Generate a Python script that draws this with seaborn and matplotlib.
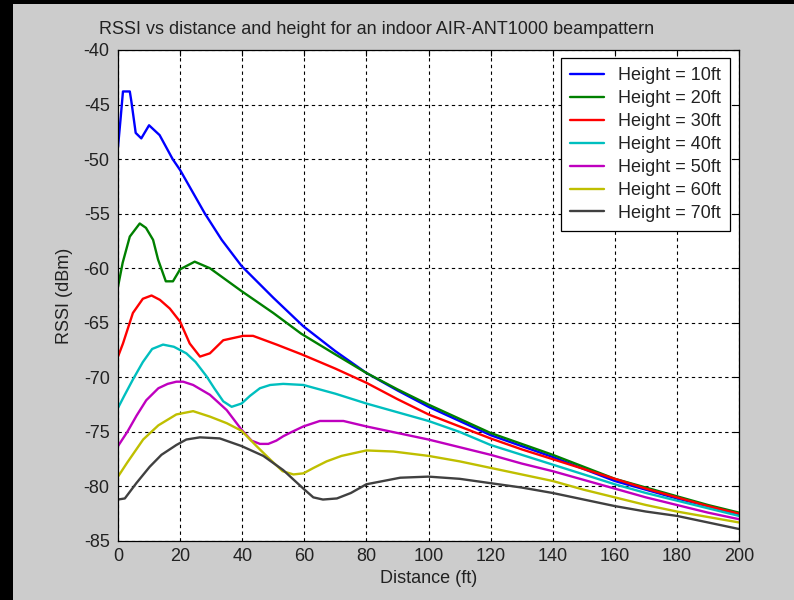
import pandas as pd
import seaborn as sns
import matplotlib.pyplot as plt
from matplotlib.patches import Rectangle

# values
dist_10 = [0, 0.8, 1.6, 3.8, 4.3, 5.7, 7.5, 10, 13.4, 17.6, 20, 28, 33.4, 39.8, 50, 59.6, 70, 80,
           90, 100, 110, 120, 130, 140, 150, 160, 170, 180, 190, 200]
rssi_10 = [-48.9, -46.4, -43.8, -43.8, -44.7, -47.6, -48.1, -46.9, -47.8, -50.0, -51.0, -55.0, -57.4,
           -59.8, -62.7, -65.3, -67.6, -69.6, -71.2, -72.7, -74.0, -75.3, -76.3, -77.3, -78.4, -79.5,
           -80.3, -81.1, -81.8, -82.6]

dist_20 = [0, 1.5, 3.8, 7, 9, 11.3, 12.9, 15.4, 17.7, 20, 24.7, 29.6, 39.8, 50, 59, 70, 80, 90,
           100, 110, 120, 130, 140, 150, 160, 170, 180, 190, 200]
rssi_20 = [-61.7, -59.5, -57.1, -55.9, -56.3, -57.4, -59.2, -61.2, -61.2, -60.1, -59.4, -60.0, -62.1,
           -64.1, -66.0, -67.9, -69.6, -71.1, -72.5, -73.8, -75.1, -76.1, -77.1, -78.2, -79.3, -80.1,
           -80.9, -81.7, -82.4]

dist_30 = [0, 1.6, 4.8, 8, 10.8, 13.5, 16.7, 20, 23.1, 26.4, 29.6, 33.9, 40.3, 43.5, 51.1, 59.2,
           70, 80, 90, 100, 110, 120, 130, 140, 150, 160, 170, 180, 190, 200]
rssi_30 = [-68.1, -66.9, -64.1, -62.8, -62.5, -62.9, -63.7, -64.9, -66.9, -68.1, -67.8, -66.6, -66.2,
           -66.2, -67.0, -67.9, -69.2, -70.5, -72.0, -73.4, -74.5, -75.6, -76.6, -77.5, -78.4, -79.3,
           -80.2, -81.0, -81.8, -82.5]

dist_40 = [0, 2, 4.8, 8, 11, 14.5, 18, 22, 25, 28.5, 31, 33.9, 36.6, 39.8, 42.5, 45.7, 49, 53.2,
           59.7, 70, 80, 90, 100, 110, 120, 130, 140, 150, 160, 170, 180, 190, 200]
rssi_40 = [-72.8, -71.7, -70.2, -68.6, -67.4, -67.0, -67.2, -67.8, -68.6, -69.9, -71.0, -72.2, -72.7,
           -72.4, -71.7, -71.0, -70.7, -70.6, -70.7, -71.5, -72.4, -73.2, -74.0, -75.0, -76.2, -77.1,
           -78.0, -78.9, -79.8, -80.6, -81.3, -82.0, -82.7]

dist_50 = [0, 3, 6, 9.1, 13, 16, 18.8, 21, 24.2, 29.6, 35, 39.8, 43, 45.7, 48.4, 51, 53.2, 56, 59.7,
           65, 72.6, 80, 90, 100, 110, 120, 130, 140, 150, 160, 170, 180, 190, 200]
rssi_50 = [-76.3, -75.0, -73.5, -72.1, -71.0, -70.6, -70.4, -70.4, -70.7, -71.6, -73.0, -74.8, -75.8,
           -76.1, -76.1, -75.8, -75.4, -75.0, -74.5, -74.0, -74.0, -74.5, -75.1, -75.7, -76.4, -77.1,
           -77.9, -78.6, -79.4, -80.2, -81.0, -81.7, -82.4, -83.0]

dist_60 = [0, 3, 8.1, 13, 18.8, 24.2, 29.6, 35, 39.8, 44.6, 48.9, 53, 56.5, 59.7, 63, 67.2, 72, 80,
           88.7, 100, 110, 120, 130, 140, 150, 160, 170, 180, 190, 200]
rssi_60 = [-79.1, -77.8, -75.7, -74.4, -73.4, -73.1, -73.6, -74.2, -74.9, -76.3, -77.5, -78.6, -78.9,
           -78.8, -78.3, -77.7, -77.2, -76.7, -76.8, -77.2, -77.7, -78.3, -78.9, -79.5, -80.3, -81.0,
           -81.7, -82.3, -82.8, -83.3]

dist_70 = [0, 2.2, 5.9, 10.2, 14, 18.8, 22, 26.4, 32.8, 39.8, 46.8, 53.2, 59.7, 62.9, 66, 70.5, 75,
           80, 90.9, 100, 110, 120, 130, 140, 150, 160, 170, 180, 190, 200]
rssi_70 = [-81.2, -81.1, -79.7, -78.2, -77.1, -76.2, -75.7, -75.5, -75.6, -76.3, -77.2, -78.5, -80.2,
           -81.0, -81.2, -81.1, -80.6, -79.8, -79.2, -79.1, -79.3, -79.7, -80.1, -80.6, -81.2, -81.8,
           -82.3, -82.7, -83.3, -83.9]

heights = ["Height = 10ft", "Height = 20ft", "Height = 30ft", "Height = 40ft",
           "Height = 50ft", "Height = 60ft", "Height = 70ft"]
colors = ["#0000ff", "#008000", "#ff0000", "#00bfbf", "#bf00bf", "#bfbf00", "#404040"]

x_ticks = list(range(0, 201, 20))
y_ticks = list(range(-85, -39, 5))


def main():
    series = [(dist_10, rssi_10), (dist_20, rssi_20), (dist_30, rssi_30), (dist_40, rssi_40),
              (dist_50, rssi_50), (dist_60, rssi_60), (dist_70, rssi_70)]
    frames = []
    for label, (d, r) in zip(heights, series):
        frames.append(pd.DataFrame({"distance": d, "rssi": r, "height": label}))
    df = pd.concat(frames, ignore_index=True)

    sns.set_style("white")
    plt.rcParams["font.family"] = ["Liberation Sans", "DejaVu Sans"]
    plt.rcParams["text.color"] = "#222222"
    plt.rcParams["axes.unicode_minus"] = False

    fig = plt.figure(figsize=(7.94, 6), dpi=100, facecolor="#cccccc")
    ax = fig.add_axes([118 / 794, 1 - 541 / 600, (739 - 118) / 794, (541 - 50) / 600])
    ax.set_facecolor("white")

    # black strips along the left and top of the window
    fig.patches.append(Rectangle((0, 0), 13 / 794, 1, transform=fig.transFigure,
                                 facecolor="black", edgecolor="none", zorder=-1))
    fig.patches.append(Rectangle((0, 1 - 4 / 600), 1, 4 / 600, transform=fig.transFigure,
                                 facecolor="black", edgecolor="none", zorder=-1))

    sns.lineplot(data=df, x="distance", y="rssi", hue="height", hue_order=heights,
                 palette=colors, estimator=None, sort=False, linewidth=1.7, ax=ax)

    ax.set_xlim(0, 200)
    ax.set_ylim(-85, -40)
    ax.set_xticks(x_ticks)
    ax.set_yticks(y_ticks)
    ax.grid(True, color="black", linestyle=(0, (3, 3)), linewidth=0.8)
    ax.set_axisbelow(True)
    for s in ax.spines.values():
        s.set_visible(True)
        s.set_color("black")
        s.set_linewidth(0.9)
    ax.tick_params(direction="in", length=4, width=0.8, top=True, right=True,
                   labelsize=13, labelcolor="#222222", color="black")
    ax.tick_params(axis="x", pad=5)
    ax.tick_params(axis="y", pad=6)

    ax.set_xlabel("Distance (ft)", fontsize=13, color="#222222")
    ax.xaxis.set_label_coords(0.5, -0.059)
    ax.set_ylabel("RSSI (dBm)", fontsize=13, color="#222222")
    ax.yaxis.set_label_coords(-0.072, 0.5)
    fig.text(99 / 794, 1 - 29 / 600, "RSSI vs distance and height for an indoor AIR-ANT1000 beampattern",
             fontsize=13, color="#222222", ha="left", va="center")

    old = ax.get_legend()
    handles = old.legend_handles
    labels = [t.get_text() for t in old.texts]
    old.remove()
    leg = ax.legend(handles, labels, loc="upper right", bbox_to_anchor=(730 / 794, 1 - 58 / 600),
                    bbox_transform=fig.transFigure, borderaxespad=0, fancybox=False,
                    framealpha=1, edgecolor="black", fontsize=13, handlelength=1.9,
                    handletextpad=0.75, labelspacing=0.33, borderpad=0.5)
    leg.get_frame().set_linewidth(0.9)
    for line in leg.get_lines():
        line.set_linewidth(1.7)

    fig.savefig("out.png", dpi=100, facecolor=fig.get_facecolor())


if __name__ == "__main__":
    main()
